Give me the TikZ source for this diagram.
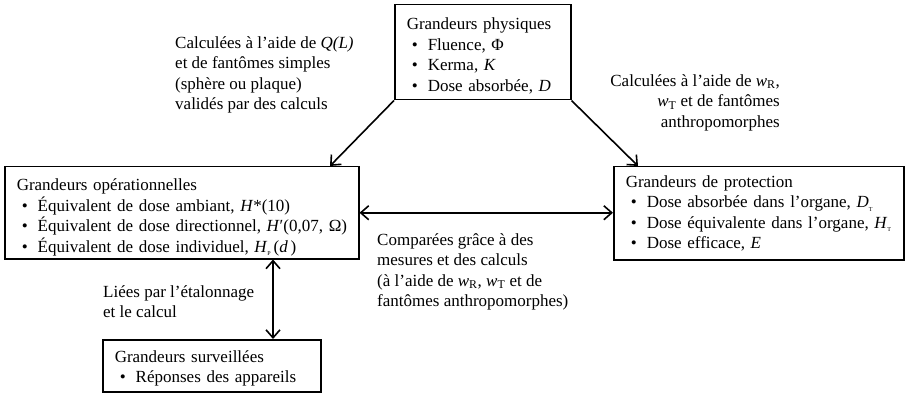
\documentclass[tikz,border=0pt]{standalone}
\usepackage{fontspec}
\setmainfont{Liberation Serif}
\usetikzlibrary{arrows.meta}

% bullet item inside a box (kept on one line)
\newcommand{\itm}[1]{\mbox{\hspace*{5pt}\makebox[16pt][l]{\textbullet}#1}}
% small roman subscript (w_R, w_T)
\newcommand{\rsub}[1]{\textsubscript{#1}}
% very small subscript (D_T, H_T, H_p)
\newcommand{\tinysub}[1]{\raisebox{-0.45ex}{\fontsize{6pt}{6pt}\selectfont #1}}
% invisible strut that lowers the text block inside a box
\newcommand{\lift}[1]{\rule{0pt}{#1}}

\tikzset{
  txt/.style={font=\fontsize{17pt}{20.5pt}\selectfont, align=left},
  qbox/.style={txt, draw, line width=1.5pt, anchor=north west,
               inner xsep=12pt, inner ysep=0pt},
  lbl/.style={txt, inner sep=0pt},
  arr/.style={line width=1.6pt, {Straight Barb[length=8pt,width=14pt,line width=1.6pt]}-{Straight Barb[length=8pt,width=14pt,line width=1.6pt]}},
  arrto/.style={line width=1.6pt, -{Straight Barb[length=8pt,width=14pt,line width=1.6pt]}}
}

\begin{document}
\begin{tikzpicture}[x=1pt, y=-1pt]
\useasboundingbox (0,0) rectangle (905,393);

% quantity boxes
\node[qbox, minimum width=176pt, minimum height=95pt, text width=152pt] (phys) at (394,4)
  {\lift{19.5pt}Grandeurs physiques\\
   \itm{Fluence, Φ}\\
   \itm{Kerma, \textit{K}}\\
   \itm{Dose absorbée, \textit{D}}};

\node[qbox, minimum width=354pt, minimum height=92pt, text width=330pt] (oper) at (4,166)
  {\lift{21pt}Grandeurs opérationnelles\\
   \itm{Équivalent de dose ambiant, \textit{H}*(10)}\\
   \itm{Équivalent de dose directionnel, \textit{H}′(0,07, Ω)}\\
   \itm{Équivalent de dose individuel, \textit{H}\tinysub{P}\,(\textit{d}\,)}};

\node[qbox, minimum width=290pt, minimum height=93pt, text width=266pt] (prot) at (613,166)
  {Grandeurs de protection\\
   \itm{Dose absorbée dans l’organe, \textit{D}\tinysub{T}}\\
   \itm{Dose équivalente dans l’organe, \textit{H}\tinysub{T}}\\
   \itm{Dose efficace, \textit{E}}};

\node[qbox, minimum width=218pt, minimum height=52pt, text width=194pt] (surv) at (102,339)
  {\lift{17.5pt}Grandeurs surveillées\\
   \itm{Réponses des appareils}};

% connectors
\draw[arrto] (phys.south west) -- ([xshift=326pt]oper.north west);
\draw[arrto] (phys.south east) -- ([xshift=25pt]prot.north west);
\draw[arr] (oper.east) -- (oper.east -| prot.west);
\draw[arr] ([xshift=171pt]surv.north west) -- ([xshift=171pt]surv.north west |- oper.south);

% connector labels
\node[lbl, anchor=north west] (lq) at (175,36)
  {Calculées à l’aide de \textit{Q(L)}\\
   et de fantômes simples\\
   (sphère ou plaque)\\
   validés par des calculs};

\node[lbl, anchor=north east, align=right] (lw) at (780,74)
  {Calculées à l’aide de \textit{w}\rsub{R},\\
   \textit{w}\rsub{T} et de fantômes\\
   anthropomorphes};

\node[lbl, anchor=north west] (lc) at (377,233)
  {Comparées grâce à des\\
   mesures et des calculs\\
   (à l’aide de \textit{w}\rsub{R}, \textit{w}\rsub{T} et de\\
   fantômes anthropomorphes)};

\node[lbl, anchor=north west] (le) at (103,285)
  {Liées par l’étalonnage\\
   et le calcul};
\end{tikzpicture}
\end{document}
